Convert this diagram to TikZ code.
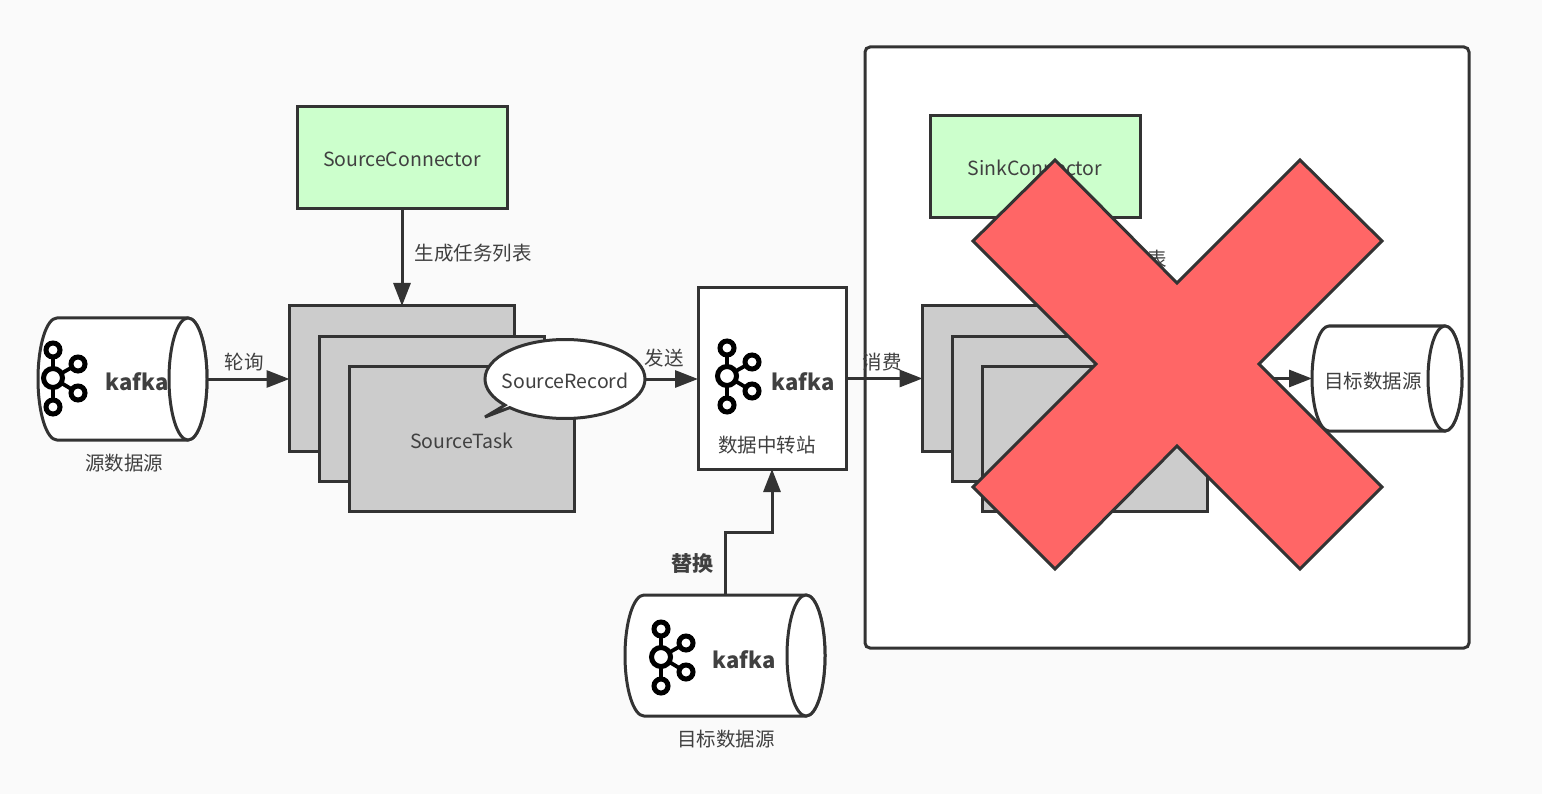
\documentclass[tikz,border=0pt]{standalone}
\usepackage{fontspec}
\setmainfont{Noto Sans CJK SC}
\usetikzlibrary{shapes.geometric,shapes.callouts,arrows.meta}
\definecolor{ink}{HTML}{333333}
\definecolor{txt}{HTML}{404040}
\definecolor{greenbox}{HTML}{CCFFCC}
\definecolor{graybox}{HTML}{CCCCCC}
\definecolor{redx}{HTML}{FF6666}
\definecolor{bgc}{HTML}{FAFAFA}
\tikzset{
  x=1pt,y=-1pt,
  every node/.style={inner sep=0pt,outer sep=0pt,font=\fontsize{19.5}{22}\selectfont,text=txt},
  conn/.style={draw=ink,line width=3pt,fill=greenbox,minimum width=210,minimum height=102},
  task/.style={draw=ink,line width=3pt,fill=graybox,minimum width=225,minimum height=145},
  white box/.style={draw=ink,line width=3pt,fill=white},
  cylline/.style={draw=ink,line width=3pt,fill=white},
  arrowline/.style={draw=ink,line width=3pt,-{Triangle[length=23pt,width=17pt]}},
  kafkatxt/.style={font=\fontsize{22}{24}\selectfont\bfseries},
  ring/.style={draw=black,line width=5pt,fill=white},
  spoke/.style={draw=black,line width=3.8pt},
}
\newcommand{\kafkaicon}[2]{%
  \begin{scope}[shift={(#1,#2)}]
    \draw[spoke] (0,-28) -- (0,29) (0,0) -- (25,-14) (0,0) -- (25,15);
    \draw[ring] (0,0) circle[radius=9.5];
    \draw[ring] (0,-28) circle[radius=7];
    \draw[ring] (0,29) circle[radius=7];
    \draw[ring] (25,-14) circle[radius=7];
    \draw[ring] (25,15) circle[radius=7];
  \end{scope}}
% name, centre x, centre y, width, height, end radius
\newcommand{\cylbody}[6]{%
  \node[minimum width=#4,minimum height=#5] (#1) at (#2,#3) {};
  \draw[cylline] ([xshift=#6]#1.north west)
     arc[start angle=270,end angle=90,x radius=#6,y radius=#5/2]
     -- ([xshift=-#6]#1.south east)
     arc[start angle=90,end angle=-90,x radius=#6,y radius=#5/2]
     -- cycle;
  \draw[cylline] ([xshift=-#6]#1.east) ellipse[x radius=#6,y radius=#5/2];
}
\begin{document}
\begin{tikzpicture}
\useasboundingbox (0,0) rectangle (1542,794);
\fill[bgc] (0,0) rectangle (1542,794);

% sink frame
\node[draw=ink,line width=3pt,fill=white,rounded corners=5pt,minimum width=604,minimum height=601] (frame) at (1167,347.5) {};

% source side
\node[conn] (sc) at (402,157.5) {\raisebox{-9pt}[0pt][0pt]{SourceConnector}};
\node[task] (t1) at (402,378.5) {};
\node[task] (t2) at (432,408.5) {};
\node[task] (t3) at (462,438.5) {};
\node (stl) at (462,441) {SourceTask};
\draw[arrowline] (sc.south) -- (t1.north);
\node (l1) at (473,253) {生成任务列表};

\node[ellipse callout,draw=ink,line width=3pt,fill=white,minimum width=160,minimum height=79,callout absolute pointer={(485,417)},callout pointer arc=5] (sr) at (565,379) {};
\node (srl) at (565,381) {SourceRecord};

% source kafka
\cylbody{c1}{122.5}{379}{169}{122}{19}
\kafkaicon{53}{378}
\node[kafkatxt] (k1) at (137,382) {kafka};
\node (l2) at (124,463) {源数据源};
\draw[arrowline] (c1.east) -- (t1.west |- c1.east);
\node (l3) at (244,362) {轮询};

% relay
\node[white box,minimum width=148,minimum height=181] (relay) at (772,378.5) {};
\kafkaicon{727}{376}
\node[kafkatxt] (k2) at (803,382) {kafka};
\node (l4) at (767,445) {数据中转站};
\draw[arrowline] (sr.east) -- (relay.west |- sr.east);
\node (l5) at (664,358) {发送};

% replacement
\cylbody{c3}{725}{655.5}{200}{121}{19}
\kafkaicon{661}{657}
\node[kafkatxt] (k3) at (744,660) {kafka};
\node (l6) at (726,739) {目标数据源};
\draw[arrowline] (c3.north) -- (725,532) -- (772,532) -- (relay.south);
\node[font=\fontsize{21}{23}\selectfont\bfseries] (l7) at (692,564) {替换};

% sink side
\node[conn] (snk) at (1035,166.5) {\raisebox{-9pt}[0pt][0pt]{SinkConnector}};
\node[task] (s1) at (1035,378.5) {};
\node[task] (s2) at (1065,408.5) {};
\node[task] (s3) at (1095,438.5) {};
\draw[arrowline] (snk.south) -- (s1.north);
\node (l8) at (1157,259) {表};
\draw[arrowline] (relay.east |- s1.west) -- (s1.west);
\node (l9) at (882,362) {消费};
\cylbody{c2}{1387}{378.5}{150}{105}{17}
\node (l10) at (1373,381) {目标数据源};
\draw[arrowline] (s3.east |- c2.west) -- (c2.west);

% cross
\draw[draw=ink,line width=3pt,fill=redx,line join=miter]
 (973,241) -- (1055,160) -- (1177,283) -- (1300,160) -- (1382,241) -- (1259,364) -- (1382,487) -- (1300,569) -- (1177,446) -- (1055,569) -- (973,487) -- (1096,364) -- cycle;
\end{tikzpicture}
\end{document}
